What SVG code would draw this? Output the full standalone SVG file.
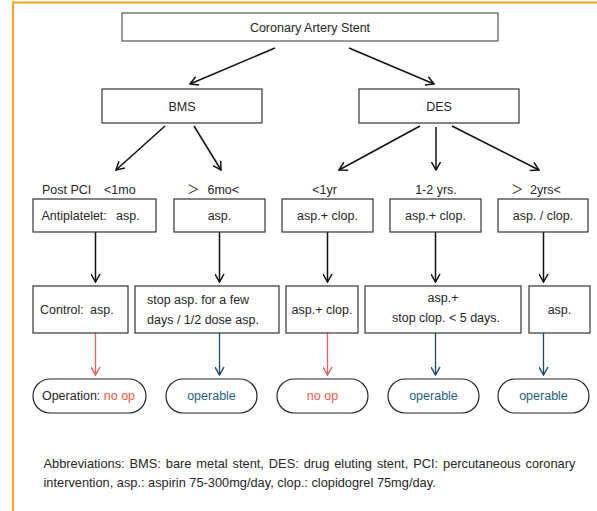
<svg xmlns="http://www.w3.org/2000/svg" width="597" height="511" viewBox="0 0 597 511">
<style>
text{font-family:"Liberation Sans",Arial,"Noto Sans CJK SC",sans-serif;font-size:12.5px;fill:#262626}
.c{text-anchor:middle}
.box{fill:#fff;stroke:#333;stroke-width:1.2}
.top{fill:#fff;stroke:#555;stroke-width:1.2}
.oval{fill:#fff;stroke:#222;stroke-width:1.2}
.k{stroke:#111;stroke-width:1.5;fill:none}
.r{stroke:#E9605A;stroke-width:1.3;fill:none}
.b{stroke:#174A6B;stroke-width:1.3;fill:none}
.red{fill:#F0553F}
.blue{fill:#1F5E80}
</style>
<defs>
<marker id="mk" viewBox="-9 -5 10 10" refX="0" refY="0" markerWidth="10" markerHeight="10" markerUnits="userSpaceOnUse" orient="auto"><path d="M-8,-4.5 L0,0 L-8,4.5" fill="none" stroke="#111" stroke-width="1.5"/></marker>
<marker id="mr" viewBox="-9 -5 10 10" refX="0" refY="0" markerWidth="10" markerHeight="10" markerUnits="userSpaceOnUse" orient="auto"><path d="M-8,-4.5 L0,0 L-8,4.5" fill="none" stroke="#E9605A" stroke-width="1.4"/></marker>
<marker id="mb" viewBox="-9 -5 10 10" refX="0" refY="0" markerWidth="10" markerHeight="10" markerUnits="userSpaceOnUse" orient="auto"><path d="M-8,-4.5 L0,0 L-8,4.5" fill="none" stroke="#174A6B" stroke-width="1.4"/></marker>
</defs>
<rect width="597" height="511" fill="#fff"/>
<path d="M13,511 V2.5 H597" fill="none" stroke="#F7A51E" stroke-width="2"/>

<g id="connectors">
<line class="k" x1="275" y1="48" x2="190" y2="84" marker-end="url(#mk)"/>
<line class="k" x1="349" y1="48" x2="434" y2="84" marker-end="url(#mk)"/>
<line class="k" x1="165" y1="126" x2="116" y2="170" marker-end="url(#mk)"/>
<line class="k" x1="194" y1="126" x2="221" y2="170" marker-end="url(#mk)"/>
<line class="k" x1="420" y1="126" x2="339" y2="170" marker-end="url(#mk)"/>
<line class="k" x1="436" y1="127" x2="436" y2="170" marker-end="url(#mk)"/>
<line class="k" x1="452" y1="126" x2="539" y2="170" marker-end="url(#mk)"/>
<line class="k" x1="95.5" y1="232" x2="95.5" y2="282" marker-end="url(#mk)"/>
<line class="k" x1="219.5" y1="232" x2="219.5" y2="282" marker-end="url(#mk)"/>
<line class="k" x1="327.5" y1="232" x2="327.5" y2="282" marker-end="url(#mk)"/>
<line class="k" x1="435.5" y1="232" x2="435.5" y2="282" marker-end="url(#mk)"/>
<line class="k" x1="543.5" y1="232" x2="543.5" y2="282" marker-end="url(#mk)"/>
<line class="r" x1="95.5" y1="333" x2="95.5" y2="375" marker-end="url(#mr)"/>
<line class="b" x1="219.5" y1="333" x2="219.5" y2="375" marker-end="url(#mb)"/>
<line class="r" x1="327.5" y1="333" x2="327.5" y2="375" marker-end="url(#mr)"/>
<line class="b" x1="435.5" y1="333" x2="435.5" y2="375" marker-end="url(#mb)"/>
<line class="b" x1="543.5" y1="333" x2="543.5" y2="375" marker-end="url(#mb)"/>
</g>

<g id="root"><rect class="top" x="122" y="13" width="376" height="28"/><text class="c" x="310" y="31.5">Coronary Artery Stent</text></g>
<g id="bms"><rect class="box" x="102" y="89" width="160" height="34"/><text class="c" x="182" y="111">BMS</text></g>
<g id="des"><rect class="box" x="359" y="89" width="160" height="34"/><text class="c" x="439" y="111">DES</text></g>

<g id="lbl1"><text x="42" y="194">Post PCI<tspan x="104">&lt;1mo</tspan></text></g>
<g id="lbl2"><text x="187" y="194">＞ <tspan x="207.5">6mo&lt;</tspan></text></g>
<g id="lbl3"><text class="c" x="324.5" y="194">&lt;1yr</text></g>
<g id="lbl4"><text class="c" x="436" y="194">1-2 yrs.</text></g>
<g id="lbl5"><text x="511" y="194">＞ <tspan x="530">2yrs&lt;</tspan></text></g>

<g id="b1"><rect class="box" x="33" y="199" width="123" height="33"/><text x="41.5" y="220">Antiplatelet:<tspan x="116">asp.</tspan></text></g>
<g id="b2"><rect class="box" x="174" y="199" width="91" height="33"/><text class="c" x="219.5" y="220">asp.</text></g>
<g id="b3"><rect class="box" x="282" y="199" width="91" height="33"/><text class="c" x="327.5" y="220">asp.+ clop.</text></g>
<g id="b4"><rect class="box" x="390" y="199" width="91" height="33"/><text class="c" x="435.5" y="220">asp.+ clop.</text></g>
<g id="b5"><rect class="box" x="498" y="199" width="90" height="33"/><text class="c" x="543" y="220">asp. / clop.</text></g>

<g id="c1"><rect class="box" x="33" y="286" width="95" height="47"/><text x="40" y="314">Control:<tspan x="90">asp.</tspan></text></g>
<g id="c2"><rect class="box" x="135" y="286" width="144" height="47"/><text x="147" y="304">stop asp. for a few</text><text x="147" y="324">days / 1/2 dose asp.</text></g>
<g id="c3"><rect class="box" x="286" y="286" width="72" height="47"/><text class="c" x="322" y="314">asp.+ clop.</text></g>
<g id="c4"><rect class="box" x="365" y="286" width="156" height="47"/><text class="c" x="443" y="302">asp.+</text><text class="c" x="446" y="322">stop clop. &lt; 5 days.</text></g>
<g id="c5"><rect class="box" x="529" y="286" width="61" height="47"/><text class="c" x="559.5" y="314">asp.</text></g>

<g id="o1"><rect class="oval" x="33" y="379" width="113" height="34" rx="17"/><text class="c" x="88.5" y="400">Operation: <tspan class="red">no op</tspan></text></g>
<g id="o2"><rect class="oval" x="166" y="379" width="91" height="34" rx="17"/><text class="c blue" x="211.5" y="400">operable</text></g>
<g id="o3"><rect class="oval" x="277" y="379" width="91" height="34" rx="17"/><text class="c red" x="322.5" y="400">no op</text></g>
<g id="o4"><rect class="oval" x="388" y="379" width="91" height="34" rx="17"/><text class="c blue" x="433.5" y="400">operable</text></g>
<g id="o5"><rect class="oval" x="498" y="379" width="91" height="34" rx="17"/><text class="c blue" x="543.5" y="400">operable</text></g>

<g id="note">
<text x="43.5" y="468" style="font-size:12.8px;word-spacing:1.4px">Abbreviations: BMS: bare metal stent, DES: drug eluting stent, PCI: percutaneous coronary</text>
<text x="43.5" y="487" style="font-size:12.8px">intervention, asp.: aspirin 75-300mg/day, clop.: clopidogrel 75mg/day.</text>
</g>
</svg>
